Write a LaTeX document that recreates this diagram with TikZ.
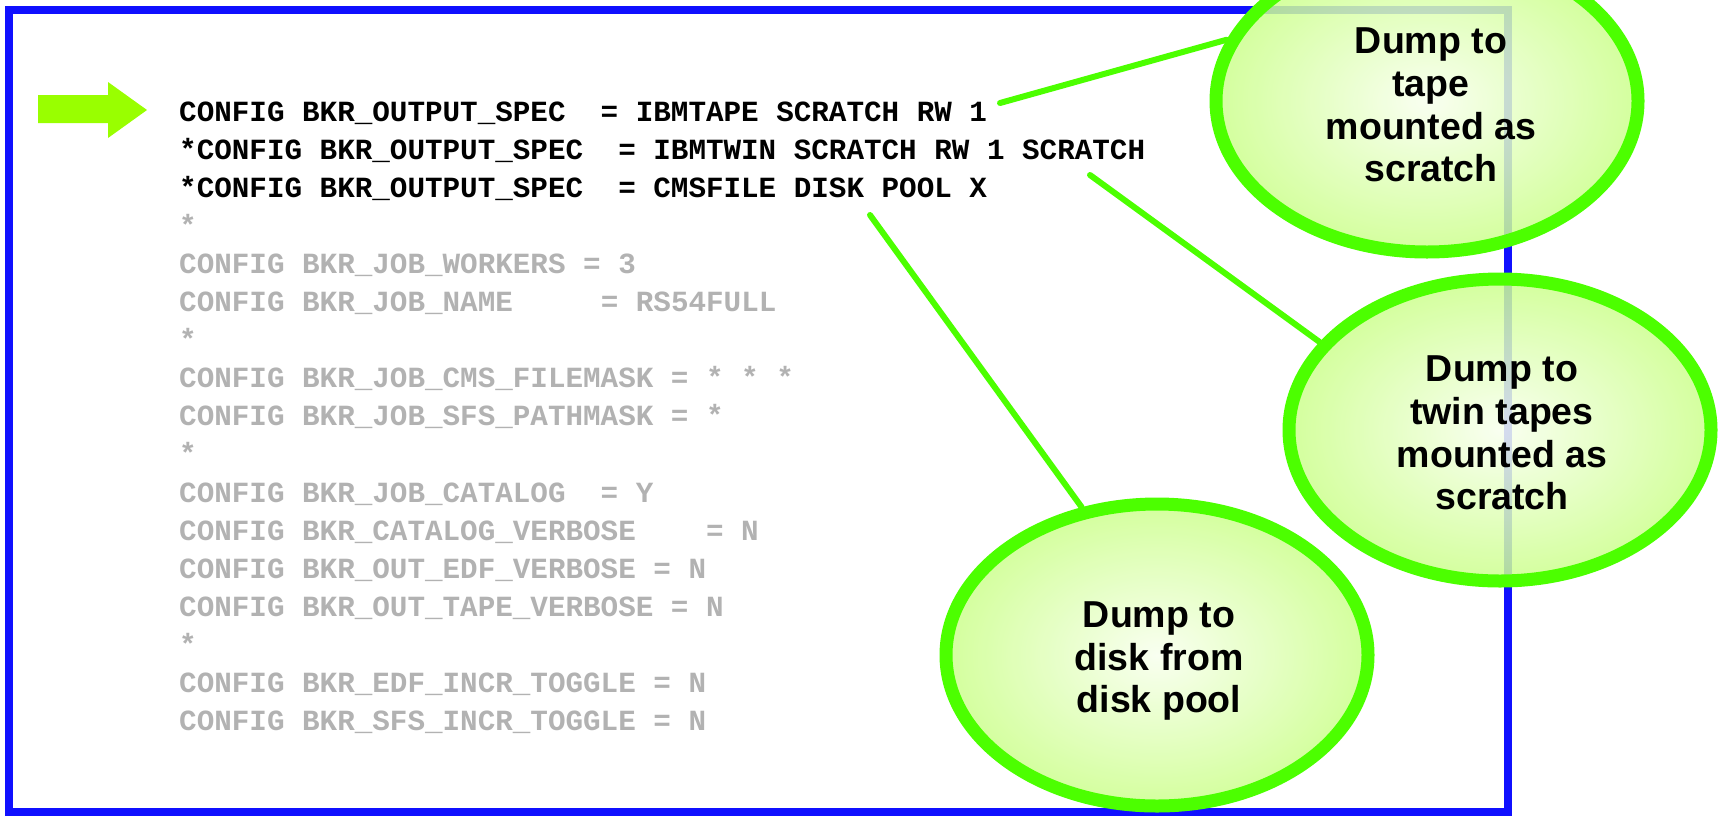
\documentclass[tikz,border=0pt]{standalone}
\usepackage{fontspec}
\setmonofont{Liberation Mono}
\newfontfamily\calloutfont{Liberation Sans}
\usetikzlibrary{shapes.geometric}
\definecolor{frameblue}{RGB}{16,16,255}
\definecolor{ringgreen}{RGB}{76,255,0}
\definecolor{arrowgreen}{RGB}{153,255,0}
\definecolor{bubblein}{RGB}{248,255,238}
\definecolor{bubbleout}{RGB}{204,255,140}
\definecolor{dimtext}{RGB}{178,178,178}
\begin{document}
\begin{tikzpicture}[x=1pt,y=-1pt,
  cfg/.style={anchor=base west, inner sep=0pt,
    font=\fontsize{29.27}{38}\ttfamily\bfseries},
  cfgon/.style={cfg, text=black},
  cfgoff/.style={cfg, text=dimtext},
  bubble/.style={ellipse, draw=ringgreen, line width=13pt,
    inner color=bubblein, outer color=bubbleout,
    fill opacity=0.85,
    minimum width=422pt, minimum height=302pt, inner sep=0pt},
  bubbletext/.style={align=center, inner sep=0pt, text=black,
    font=\fontsize{37.5}{42.6}\calloutfont\bfseries},
  link/.style={draw=ringgreen, line width=6pt, line cap=round},
  pointer/.style={fill=arrowgreen, draw=none}
]
\useasboundingbox (0,0) rectangle (1721,815);

% outer frame
\draw[frameblue, line width=8pt] (9,10) rectangle (1508,812);

% marker arrow in front of the active line
\path[pointer] (38,95) -- (108,95) -- (108,82) -- (147,110)
  -- (108,138) -- (108,123) -- (38,123) -- cycle;

% configuration listing
\node[cfgon]  (l1)  at (179,121.0) {CONFIG BKR\_OUTPUT\_SPEC~~= IBMTAPE SCRATCH RW 1};
\node[cfgon]  (l2)  at (179,159.1) {*CONFIG BKR\_OUTPUT\_SPEC~~= IBMTWIN SCRATCH RW 1 SCRATCH};
\node[cfgon]  (l3)  at (179,197.2) {*CONFIG BKR\_OUTPUT\_SPEC~~= CMSFILE DISK POOL X};
\node[cfgoff] (l4)  at (179,235.3) {*};
\node[cfgoff] (l5)  at (179,273.4) {CONFIG BKR\_JOB\_WORKERS = 3};
\node[cfgoff] (l6)  at (179,311.5) {CONFIG BKR\_JOB\_NAME~~~~~= RS54FULL};
\node[cfgoff] (l7)  at (179,349.6) {*};
\node[cfgoff] (l8)  at (179,387.7) {CONFIG BKR\_JOB\_CMS\_FILEMASK = * * *};
\node[cfgoff] (l9)  at (179,425.8) {CONFIG BKR\_JOB\_SFS\_PATHMASK = *};
\node[cfgoff] (l10) at (179,463.9) {*};
\node[cfgoff] (l11) at (179,502.0) {CONFIG BKR\_JOB\_CATALOG~~= Y};
\node[cfgoff] (l12) at (179,540.1) {CONFIG BKR\_CATALOG\_VERBOSE~~~~= N};
\node[cfgoff] (l13) at (179,578.2) {CONFIG BKR\_OUT\_EDF\_VERBOSE = N};
\node[cfgoff] (l14) at (179,616.3) {CONFIG BKR\_OUT\_TAPE\_VERBOSE = N};
\node[cfgoff] (l15) at (179,654.4) {*};
\node[cfgoff] (l16) at (179,692.5) {CONFIG BKR\_EDF\_INCR\_TOGGLE = N};
\node[cfgoff] (l17) at (179,730.6) {CONFIG BKR\_SFS\_INCR\_TOGGLE = N};

% callout bubbles
\node[bubble] (e1) at (1427,101) {};
\node[bubble] (e2) at (1500,430) {};
\node[bubble] (e3) at (1157,655) {};
\node[bubbletext] (t1) at ([xshift=4pt,yshift=-4pt]e1.center) {Dump to\\tape\\mounted as\\scratch};
\node[bubbletext] (t2) at ([xshift=2pt,yshift=-3pt]e2.center) {Dump to\\twin tapes\\mounted as\\scratch};
\node[bubbletext] (t3) at ([xshift=2pt,yshift=-6pt]e3.center) {Dump to\\disk from\\disk pool};

% leader lines from the listing to the bubbles
\coordinate (s1) at (1000,103);
\coordinate (s2) at (1090,175);
\coordinate (s3) at (870,215);
\draw[link] (s1) -- (e1.163);
\draw[link] (s2) -- (e2.154);
\draw[link] (s3) -- (e3.117);
\end{tikzpicture}
\end{document}
